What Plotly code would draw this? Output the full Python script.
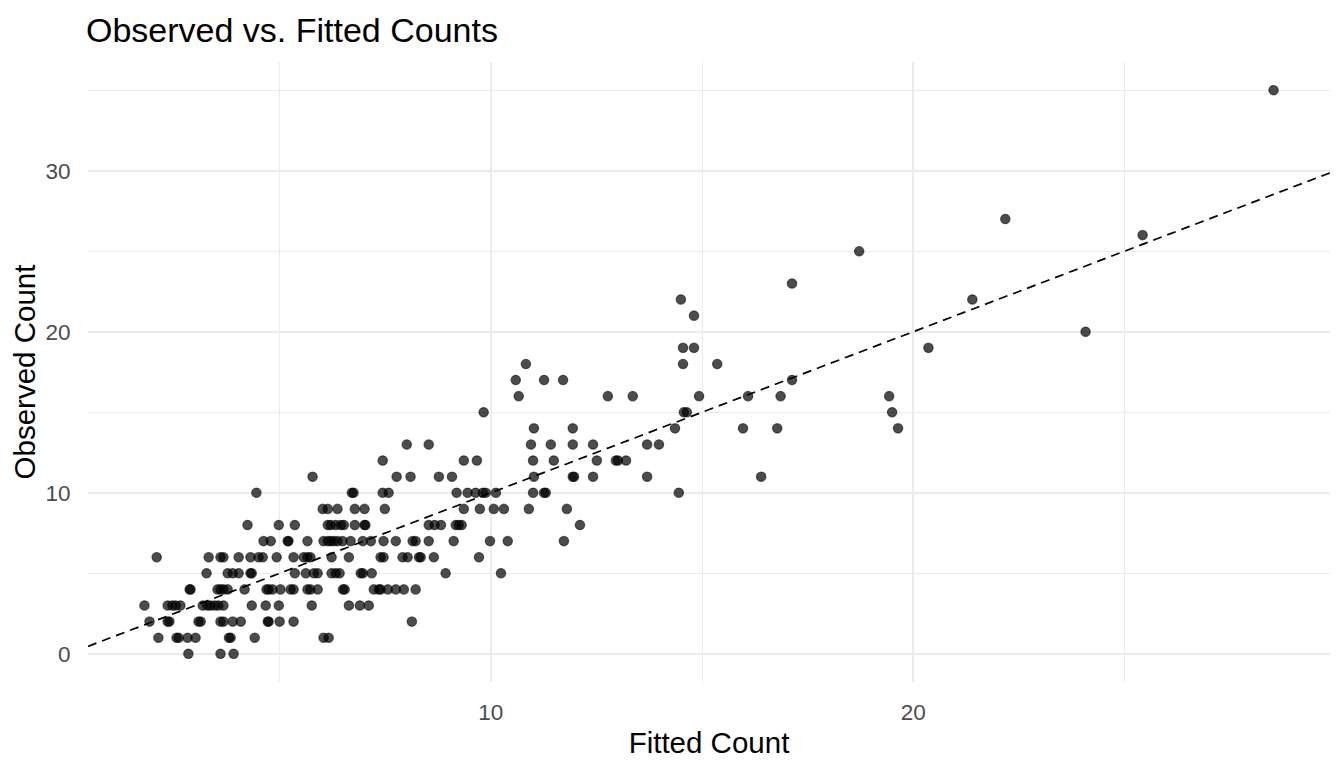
import plotly.graph_objects as go

fitted_count = [
    2.84, 3.60, 3.91,
    2.13, 2.56, 2.61, 2.82, 3.01, 3.80, 3.84, 4.41, 6.04, 6.16,
    1.92, 2.35, 2.39, 3.08, 3.13, 3.60, 3.67, 3.89, 4.08, 4.72, 4.74, 5.00, 5.33, 8.13,
    1.80, 2.35, 2.46, 2.54, 2.65, 3.18, 3.29, 3.36, 3.46, 3.55, 3.67, 4.34, 4.67, 4.98,
    5.76, 6.64, 6.90, 7.11,
    2.87, 2.89, 3.53, 3.60, 3.67, 3.77, 4.17, 4.69, 4.74, 4.83, 5.02, 5.26, 5.33, 5.66,
    5.73, 5.90, 6.50, 6.54, 7.23, 7.35, 7.39, 7.56, 7.75, 7.94, 8.22,
    3.27, 3.77, 3.89, 4.03, 4.31, 4.34, 5.36, 5.62, 5.81, 5.90, 6.23, 6.33, 6.42, 6.92,
    6.97, 7.18, 8.93, 10.24,
    2.09, 3.32, 3.60, 3.67, 4.03, 4.31, 4.50, 4.60, 4.93, 5.33, 5.57, 5.66, 5.73, 6.23,
    6.64, 7.39, 7.46, 7.91, 8.03, 8.30, 8.34, 8.65, 9.72,
    4.62, 4.79, 5.19, 5.21, 5.66, 6.04, 6.14, 6.21, 6.28, 6.37, 6.49, 6.68, 6.97, 7.16,
    7.46, 7.75, 8.15, 8.22, 8.53, 9.12, 9.98, 10.40, 11.73,
    4.24, 4.98, 5.36, 6.14, 6.21, 6.33, 6.45, 6.52, 6.78, 7.01, 7.03, 8.53, 8.67, 8.82,
    9.17, 9.24, 9.31, 12.11,
    6.02, 6.14, 6.37, 6.78, 7.01, 7.49, 9.36, 9.74, 10.07, 10.31, 10.90, 11.80,
    4.45, 6.71, 6.75, 7.44, 7.58, 9.19, 9.45, 9.64, 9.81, 9.88, 10.12, 11.00, 11.26, 11.30,
    14.45,
    5.78, 7.77, 8.10, 8.77, 9.08, 11.02, 11.94, 11.97, 12.42, 13.70, 16.40,
    7.44, 9.36, 9.67, 11.00, 11.49, 12.51, 12.96, 13.01, 13.20,
    8.01, 8.53, 10.95, 11.42, 11.94, 12.42, 13.70, 13.98,
    11.02, 11.94, 14.36, 15.97, 16.78, 19.64,
    9.83, 14.57, 14.64, 19.50,
    10.66, 12.77, 13.36, 14.93, 16.09, 16.86, 19.43,
    10.59, 11.26, 11.71, 17.13,
    10.83, 14.55, 15.36,
    14.55, 14.81, 20.36,
    24.08,
    14.81,
    14.50, 21.40,
    17.13,
    18.72,
    25.43,
    22.18,
    28.53,
]
observed_count = [
    0, 0, 0,
    1, 1, 1, 1, 1, 1, 1, 1, 1, 1,
    2, 2, 2, 2, 2, 2, 2, 2, 2, 2, 2, 2, 2, 2,
    3, 3, 3, 3, 3, 3, 3, 3, 3, 3, 3, 3, 3, 3,
    3, 3, 3, 3,
    4, 4, 4, 4, 4, 4, 4, 4, 4, 4, 4, 4, 4, 4,
    4, 4, 4, 4, 4, 4, 4, 4, 4, 4, 4,
    5, 5, 5, 5, 5, 5, 5, 5, 5, 5, 5, 5, 5, 5,
    5, 5, 5, 5,
    6, 6, 6, 6, 6, 6, 6, 6, 6, 6, 6, 6, 6, 6,
    6, 6, 6, 6, 6, 6, 6, 6, 6,
    7, 7, 7, 7, 7, 7, 7, 7, 7, 7, 7, 7, 7, 7,
    7, 7, 7, 7, 7, 7, 7, 7, 7,
    8, 8, 8, 8, 8, 8, 8, 8, 8, 8, 8, 8, 8, 8,
    8, 8, 8, 8,
    9, 9, 9, 9, 9, 9, 9, 9, 9, 9, 9, 9,
    10, 10, 10, 10, 10, 10, 10, 10, 10, 10, 10, 10, 10, 10,
    10,
    11, 11, 11, 11, 11, 11, 11, 11, 11, 11, 11,
    12, 12, 12, 12, 12, 12, 12, 12, 12,
    13, 13, 13, 13, 13, 13, 13, 13,
    14, 14, 14, 14, 14, 14,
    15, 15, 15, 15,
    16, 16, 16, 16, 16, 16, 16,
    17, 17, 17, 17,
    18, 18, 18,
    19, 19, 19,
    20,
    21,
    22, 22,
    23,
    25,
    26,
    27,
    35,
]

x_breaks = [10, 20]
x_minor = [5, 15, 25]
y_breaks = [0, 10, 20, 30]
y_minor = [5, 15, 25, 35]

# ggplot-style 5% expansion of the data range
def expand(v):
    lo, hi = min(v), max(v)
    pad = (hi - lo) * 0.05
    return [lo - pad, hi + pad]

xr = expand(fitted_count)
yr = expand(observed_count)

grid = "#EBEBEB"
fnt = "Liberation Sans, Arial, sans-serif"

# page body has an 8px margin, so the figure is a bit smaller than the window
W, H = 1328, 752

fig = go.Figure()
# y = x reference line across the whole panel
fig.add_trace(go.Scatter(
    x=xr, y=xr, mode="lines",
    line=dict(color="black", width=1.7, dash="9px,6px"),
    hoverinfo="skip", showlegend=False,
))
fig.add_trace(go.Scatter(
    x=fitted_count, y=observed_count, mode="markers",
    marker=dict(size=9.4, color="rgba(0,0,0,0.7)",
                line=dict(color="rgba(0,0,0,0.55)", width=1.2)),
    showlegend=False,
))

fig.update_layout(
    width=W, height=H,
    margin=dict(l=80, r=6, t=54, b=72),
    plot_bgcolor="white", paper_bgcolor="white",
    font=dict(family=fnt, color="black"),
    title=dict(text="Observed vs. Fitted Counts", x=78 / W, xref="container",
               xanchor="left", y=1 - 22 / H, yref="container", yanchor="middle",
               font=dict(size=34, color="black", family=fnt)),
)
fig.update_xaxes(
    range=xr, tickvals=x_breaks, showgrid=True, gridcolor=grid, gridwidth=1.8,
    zeroline=False, showline=False,
    ticks="outside", ticklen=10, tickcolor="rgba(0,0,0,0)",
    tickfont=dict(size=22.5, color="#4D4D4D"),
    minor=dict(tickvals=x_minor, showgrid=True, gridcolor=grid, gridwidth=1.0),
    title=dict(text="Fitted Count", font=dict(size=29.5, color="black"), standoff=8),
)
fig.update_yaxes(
    range=yr, tickvals=y_breaks, showgrid=True, gridcolor=grid, gridwidth=1.8,
    zeroline=False, showline=False,
    ticks="outside", ticklen=12, tickcolor="rgba(0,0,0,0)",
    tickfont=dict(size=22.5, color="#4D4D4D"),
    minor=dict(tickvals=y_minor, showgrid=True, gridcolor=grid, gridwidth=1.0),
    title=dict(text="Observed Count", font=dict(size=29.5, color="black"), standoff=6),
)

fig.write_html("out.html")
